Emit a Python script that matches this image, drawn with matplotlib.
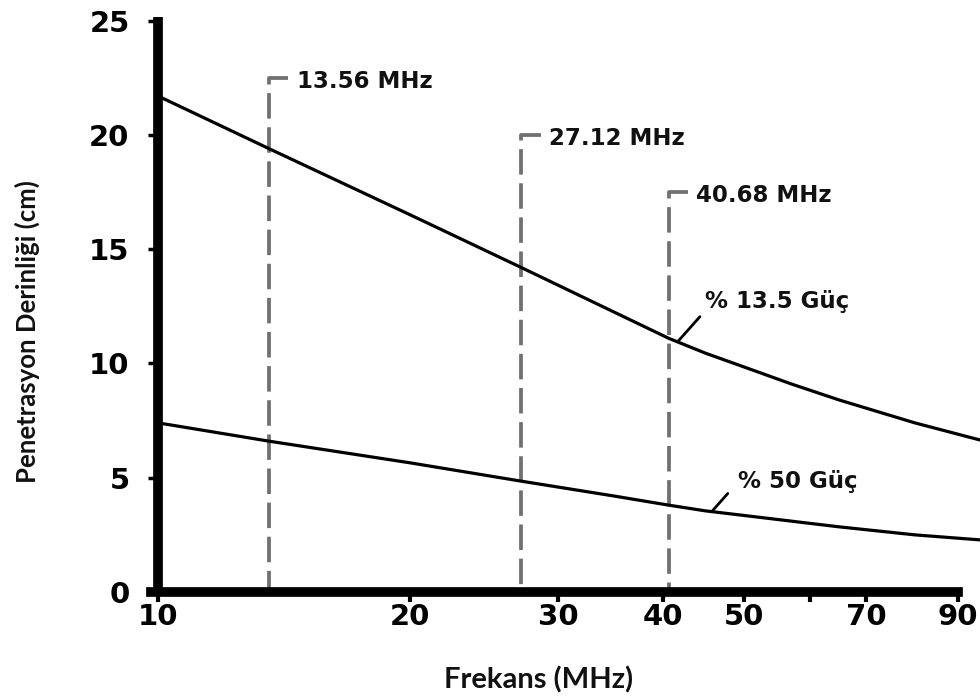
import matplotlib
matplotlib.use("Agg")
import matplotlib.pyplot as plt
from matplotlib.font_manager import FontProperties

# ---- data ----
freq = [10, 13.56, 20, 27.12, 35, 40.68, 45, 50, 57, 65, 80, 95.7]
power_13_5 = [21.7, 19.4, 16.5, 14.2, 12.25, 11.1, 10.45, 9.85, 9.1, 8.4, 7.4, 6.65]
power_50 = [7.4, 6.6, 5.65, 4.85, 4.2, 3.8, 3.55, 3.35, 3.1, 2.85, 2.5, 2.28]

marker_freqs = [13.56, 27.12, 40.68]
marker_tops = [22.5, 20.0, 17.5]
marker_labels = ["13.56 MHz", "27.12 MHz", "40.68 MHz"]

xtick_vals = [10, 20, 30, 40, 50, 60, 70, 90]
xtick_labels = ["10", "20", "30", "40", "50", "", "70", "90"]
ytick_vals = [0, 5, 10, 15, 20, 25]

curve_labels = ["% 13.5 Güç", "% 50 Güç"]
curve_label_at = [(41.7, 10.95), (45.8, 3.52)]

xlabel = "Frekans (MHz)"
ylabel = "Penetrasyon Derinliği (cm)"

plt.rcParams["font.family"] = ["DejaVu Sans"]

tick_fp = FontProperties(family="DejaVu Sans", weight="bold", size=21)
ann_fp = FontProperties(family="DejaVu Sans", weight="bold", size=16.5)
xlab_fp = FontProperties(family="Lato", weight="bold", size=21)
ylab_fp = FontProperties(family="Lato", weight="bold", size=18.5)

# ---- figure ----
fig = plt.figure(figsize=(9.8, 6.97), dpi=100)
ax = fig.add_axes([158 / 980, 1 - 592 / 697, 1 - 158 / 980, 592 / 697])
ax.set_xscale("log")
ax.set_xlim(10, 95.7)
ax.set_ylim(0, 25.9)

# dashed frequency markers
for f, top, lab in zip(marker_freqs, marker_tops, marker_labels):
    ax.plot([f * 1.055, f, f], [top, top, 0], color="#707070", lw=2.7,
            dashes=(6.8, 2.3), solid_capstyle="butt", dash_capstyle="butt",
            zorder=2, clip_on=False)
    ax.annotate(lab, xy=(f, top), xytext=(20, -2.5), textcoords="offset points",
                ha="left", va="center", color="#111111", fontproperties=ann_fp)

# curves
for ys in (power_13_5, power_50):
    ax.plot(freq, ys, color="black", lw=2.3, zorder=3, clip_on=False,
            solid_joinstyle="round")

# curve labels with leader lines
leader_offsets = [(16, 18), (11.5, 13)]
text_offsets = [(19.5, 29), (18.7, 21.6)]
for lab, pt, lo, to in zip(curve_labels, curve_label_at, leader_offsets, text_offsets):
    ax.annotate("", xy=pt, xytext=lo, textcoords="offset points",
                arrowprops=dict(arrowstyle="-", lw=2.0, color="black",
                                shrinkA=0, shrinkB=0))
    ax.annotate(lab, xy=pt, xytext=to, textcoords="offset points",
                ha="left", va="center", color="#111111", fontproperties=ann_fp)

# spines
for s in ["top", "right"]:
    ax.spines[s].set_visible(False)
ax.spines["left"].set_linewidth(7)
ax.spines["bottom"].set_linewidth(7)
ax.spines["left"].set_bounds(0, 25.15)
ax.spines["bottom"].set_bounds(9.8, 90)
ax.spines["left"].set_capstyle("butt")

ax.xaxis.set_minor_locator(matplotlib.ticker.NullLocator())
ax.set_xticks(xtick_vals)
ax.set_xticklabels(xtick_labels)
ax.set_yticks(ytick_vals)
ax.set_yticklabels([str(v) for v in ytick_vals])
for lbl in ax.get_xticklabels() + ax.get_yticklabels():
    lbl.set_fontproperties(tick_fp)
ax.tick_params(axis="x", length=7, width=3, pad=1, colors="black")
ax.tick_params(axis="y", length=7.5, width=2.5, pad=13, colors="black")

fig.text(539 / 980, 1 - 680 / 697, xlabel, ha="center", va="center",
         fontproperties=xlab_fp, color="#111111")
fig.text(27 / 980, 1 - 332 / 697, ylabel, ha="center", va="center",
         rotation=90, fontproperties=ylab_fp, color="#111111")

fig.savefig("out.png", dpi=100, facecolor="white")
